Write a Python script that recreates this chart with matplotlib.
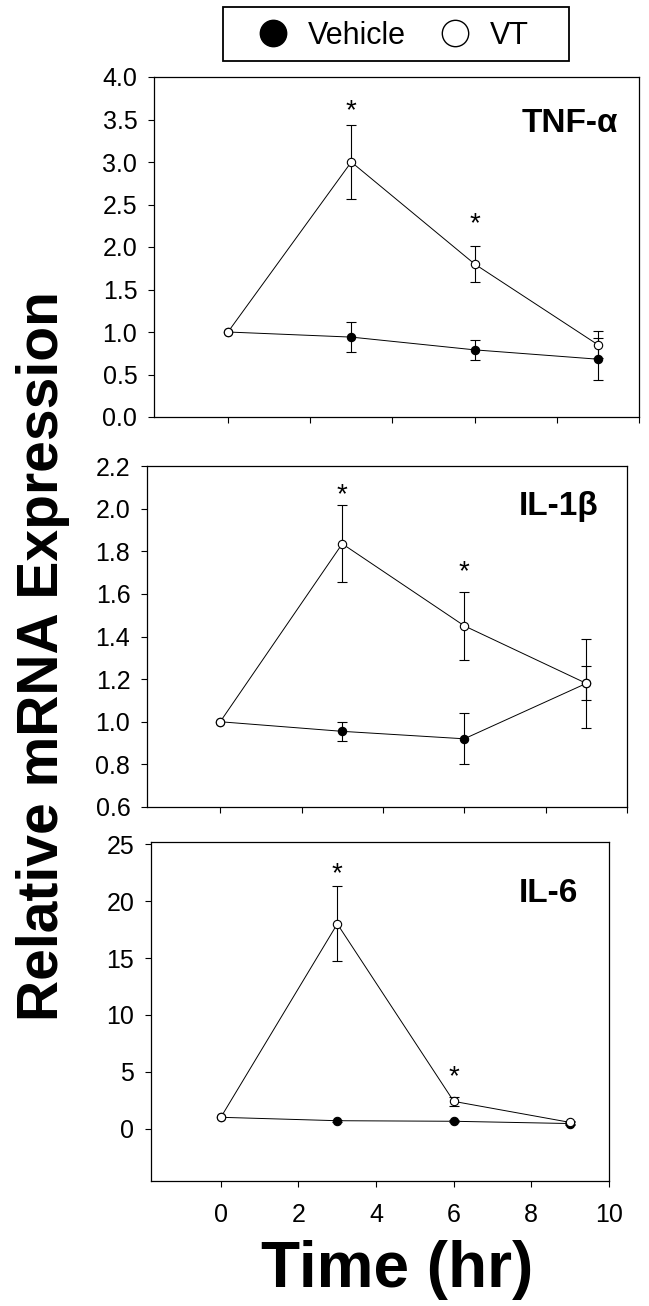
import numpy as np
import matplotlib
matplotlib.use('Agg')
import matplotlib.pyplot as plt
from matplotlib.lines import Line2D
from matplotlib.patches import Rectangle

plt.rcParams['font.family'] = ['Liberation Sans', 'DejaVu Sans']

time = [0, 3, 6, 9]

# TNF-alpha
tnf_vt = [1.0, 3.0, 1.80, 0.85]
tnf_vt_err = [0, 0.43, 0.21, 0.16]
tnf_veh = [1.0, 0.94, 0.79, 0.68]
tnf_veh_err = [0, 0.18, 0.12, 0.25]
tnf_star_x = [3, 6]
tnf_star_y = [3.64, 2.32]

# IL-1beta
il1_vt = [1.0, 1.835, 1.45, 1.18]
il1_vt_err = [0, 0.18, 0.16, 0.21]
il1_veh = [1.0, 0.955, 0.92, 1.18]
il1_veh_err = [0, 0.045, 0.12, 0.08]
il1_star_x = [3, 6]
il1_star_y = [2.08, 1.72]

# IL-6
il6_vt = [1.0, 18.0, 2.4, 0.55]
il6_vt_err = [0, 3.3, 0.4, 0.1]
il6_veh = [1.0, 0.7, 0.65, 0.45]
il6_veh_err = [0, 0.1, 0.1, 0.1]
il6_star_x = [3, 6]
il6_star_y = [22.7, 4.85]

W, H = 649, 1306
fig = plt.figure(figsize=(W / 100, H / 100), dpi=100)


def px_axes(l, r, t, b):
    return fig.add_axes([l / W, 1 - b / H, (r - l) / W, (b - t) / H])


def panel(ax, vt, vt_err, veh, veh_err, sx, sy, name, nx, ny, ylim, yticks, fmt):
    t = np.array(time)
    for y, e, fc in [(veh, veh_err, 'black'), (vt, vt_err, 'white')]:
        y = np.array(y)
        e = np.array(e)
        ax.plot(t, y, '-o', color='black', lw=0.7, ms=6, mfc=fc, mec='black',
                mew=0.8, zorder=3)
        ax.errorbar(t[1:], y[1:], yerr=e[1:], fmt='none', ecolor='black',
                    elinewidth=0.8, capsize=3.5, capthick=0.8, zorder=2)
    # significance stars, placed a bit low since the glyph sits high
    dy = (ylim[1] - ylim[0]) * 0.012
    for x, y in zip(sx, sy):
        ax.text(x, y - dy, '*', ha='center', va='center', fontsize=20)
    ax.text(nx, ny, name, transform=ax.transAxes, ha='right', va='center',
            fontsize=24, fontweight='bold')
    ax.set_xlim(-1.8, 10)
    ax.set_xticks([0, 2, 4, 6, 8, 10])
    ax.set_ylim(*ylim)
    ax.set_yticks(yticks)
    ax.set_yticklabels([fmt.format(v) for v in yticks])
    ax.tick_params(direction='out', length=4.5, width=0.8, labelsize=18)
    ax.tick_params(axis='y', pad=7.5)
    ax.tick_params(axis='x', pad=11)
    for s in ax.spines.values():
        s.set_linewidth(0.9)


ax1 = px_axes(154, 639, 77, 417)
panel(ax1, tnf_vt, tnf_vt_err, tnf_veh, tnf_veh_err, tnf_star_x, tnf_star_y,
      'TNF-α', 0.957, 0.862, (0, 4), np.arange(0, 4.01, 0.5), '{:.1f}')
ax1.set_xticklabels([])

ax2 = px_axes(147, 627, 466, 807)
panel(ax2, il1_vt, il1_vt_err, il1_veh, il1_veh_err, il1_star_x, il1_star_y,
      'IL-1β', 0.94, 0.88, (0.6, 2.2), np.arange(0.6, 2.21, 0.2), '{:.1f}')
ax2.set_xticklabels([])

ax3 = px_axes(151, 609, 842, 1181)
panel(ax3, il6_vt, il6_vt_err, il6_veh, il6_veh_err, il6_star_x, il6_star_y,
      'IL-6', 0.932, 0.847, (-4.6, 25.2), [0, 5, 10, 15, 20, 25], '{:.0f}')

fig.text(43 / W, 1 - 656 / H, 'Relative mRNA Expression', rotation=90,
         ha='center', va='center', fontsize=41, fontweight='bold')
fig.text(397 / W, 1 - 1270 / H, 'Time (hr)', ha='center', va='center',
         fontsize=46, fontweight='bold')

# legend
fig.patches.append(Rectangle((223 / W, 1 - 61 / H), 346 / W, 54 / H,
                             transform=fig.transFigure, fill=False,
                             lw=1.3, ec='black'))
handles = [Line2D([], [], ls='none', marker='o', ms=19, mfc='black', mec='black'),
           Line2D([], [], ls='none', marker='o', ms=19, mfc='white', mec='black', mew=1)]
fig.legend(handles, ['Vehicle', 'VT'], loc='center', bbox_to_anchor=(393 / W, 1 - 36 / H),
           ncol=2, frameon=False, fontsize=22, handlelength=1.0,
           handletextpad=0.65, columnspacing=1.1)

fig.savefig('out.png', dpi=100)
